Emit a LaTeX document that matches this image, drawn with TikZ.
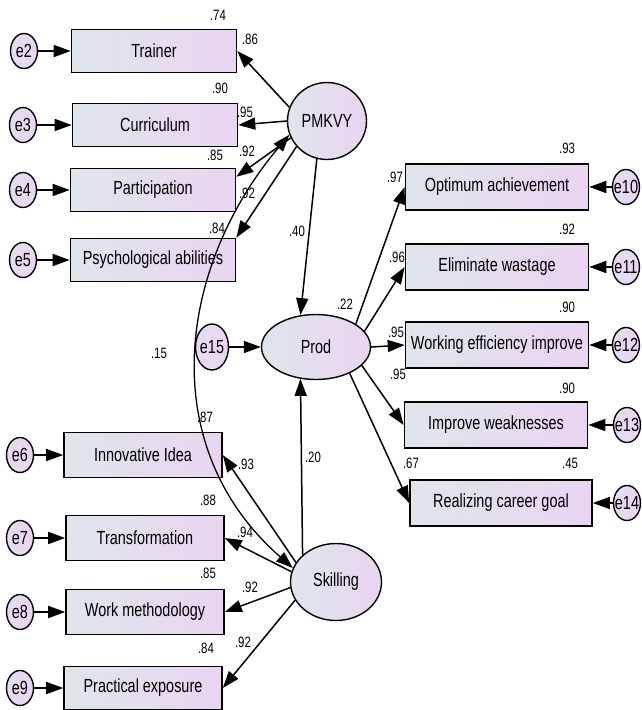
\documentclass[tikz,border=0pt]{standalone}
\usepackage{fontspec}
\setmainfont[FakeStretch=0.76]{Liberation Sans}
\usetikzlibrary{arrows.meta,shapes.geometric}
\definecolor{shadeL}{RGB}{222,230,234}
\definecolor{shadeR}{RGB}{234,212,242}
\tikzset{
  obs/.style={draw,line width=1.6pt,rectangle,left color=shadeL,right color=shadeR,
    minimum height=43pt,inner sep=0pt,font=\fontsize{19}{21}\selectfont},
  lat/.style={draw,line width=1.4pt,ellipse,left color=shadeL,right color=shadeR,
    inner sep=0pt,font=\fontsize{19}{21}\selectfont},
  err/.style={draw,line width=1.4pt,ellipse,left color=shadeL!50!shadeR,right color=shadeR,
    inner sep=0pt,minimum width=27pt,minimum height=35pt,font=\fontsize{19}{21}\selectfont},
  coef/.style={inner sep=0pt,font=\fontsize{15}{17}\selectfont},
  reg/.style={line width=1.5pt,-{Triangle[length=17pt,width=12pt]}},
  eps/.style={line width=1.7pt,-{Triangle[length=17pt,width=12pt]}},
}
\begin{document}
\begin{tikzpicture}[x=1pt,y=-1pt]
  \useasboundingbox (0,0) rectangle (642,710);
  % latent variables
  \node[lat,minimum width=79pt,minimum height=77pt] (pmkvy) at (327,121) {PMKVY};
  \node[lat,minimum width=109pt,minimum height=65pt] (prod) at (316,347) {Prod};
  \node[lat,minimum width=91pt,minimum height=77pt] (skill) at (336,582) {Skilling};
  \node[err,minimum width=33pt,minimum height=46pt] (e15) at (212,347) {\makebox[0pt]{e15}};
  % PMKVY indicators
  \node[obs,minimum width=165pt] (trainer) at (154,51) {Trainer};
  \node[obs,minimum width=165pt] (curric) at (155,125) {Curriculum};
  \node[obs,minimum width=165pt] (partic) at (153,190) {Participation};
  \node[obs,minimum width=165pt] (psych) at (153,260) {Psychological abilities};
  \node[err] (e2) at (24,51) {\makebox[0pt]{e2}};
  \node[err] (e3) at (23,125) {\makebox[0pt]{e3}};
  \node[err] (e4) at (23,190) {\makebox[0pt]{e4}};
  \node[err] (e5) at (23,260) {\makebox[0pt]{e5}};
  % Skilling indicators
  \node[obs,minimum width=158pt,minimum height=45pt] (innov) at (143,455) {Innovative Idea};
  \node[obs,minimum width=158pt,minimum height=45pt] (transf) at (145,538) {Transformation};
  \node[obs,minimum width=158pt,minimum height=45pt] (workm) at (145,612) {Work methodology};
  \node[obs,minimum width=158pt] (pract) at (143,688) {Practical exposure};
  \node[err] (e6) at (20,455) {\makebox[0pt]{e6}};
  \node[err] (e7) at (20,538) {\makebox[0pt]{e7}};
  \node[err] (e8) at (20,612) {\makebox[0pt]{e8}};
  \node[err] (e9) at (20,688) {\makebox[0pt]{e9}};
  % Prod indicators
  \node[obs,minimum width=183pt,minimum height=46pt] (optim) at (497,187) {Optimum achievement};
  \node[obs,minimum width=183pt,minimum height=46pt] (elim) at (497,267) {Eliminate wastage};
  \node[obs,minimum width=183pt,minimum height=46pt] (workeff) at (497,345) {Working efficiency improve};
  \node[obs,minimum width=183pt,minimum height=46pt] (improve) at (496,425) {Improve weaknesses};
  \node[obs,minimum width=182pt,minimum height=46pt] (career) at (501,503) {Realizing career goal};
  \node[err] (e10) at (626,187) {\makebox[0pt]{e10}};
  \node[err] (e11) at (626,267) {\makebox[0pt]{e11}};
  \node[err] (e12) at (626,345) {\makebox[0pt]{e12}};
  \node[err] (e13) at (627,425) {\makebox[0pt]{e13}};
  \node[err] (e14) at (627,503) {\makebox[0pt]{e14}};
  % error terms
  \draw[eps] (e2) -- (trainer);
  \draw[eps] (e3) -- (curric);
  \draw[eps] (e4) -- (partic);
  \draw[eps] (e5) -- (psych);
  \draw[eps] (e6) -- (innov);
  \draw[eps] (e7) -- (transf);
  \draw[eps] (e8) -- (workm);
  \draw[eps] (e9) -- (pract);
  \draw[eps] (e10) -- (optim);
  \draw[eps] (e11) -- (elim);
  \draw[eps] (e12) -- (workeff);
  \draw[eps] (e13) -- (improve);
  \draw[eps] (e14) -- (career);
  \draw[eps] (e15) -- (prod);
  % loadings and paths
  \draw[reg] (pmkvy.160) -- (trainer.east);
  \draw[reg] (pmkvy.west) -- (curric.east);
  \draw[reg] (pmkvy.205) -- (partic.9);
  \draw[reg] (pmkvy.220) -- (psych.north east);
  \draw[reg] (pmkvy.255) -- (prod.116);
  \draw[reg] (skill.141) -- (prod.244);
  \draw[reg] (skill.154) -- (innov.east);
  \draw[reg] (skill.167) -- (transf.east);
  \draw[reg] (skill.187) -- (workm.east);
  \draw[reg] (skill.204) -- (pract.east);
  \draw[reg] (prod.30) -- (optim.west);
  \draw[reg] (prod.18) -- (elim.west);
  \draw[reg] (prod.east) -- (workeff.west);
  \draw[reg] (prod.-22) -- (improve.west);
  \draw[reg] (prod.-38) -- (career.west);
  % covariance
  \draw[line width=1.3pt,{Triangle[length=17pt,width=12pt]}-{Triangle[length=17pt,width=12pt]}]
    (pmkvy.200) .. controls (178,267) and (154,446) .. (skill.162);
  % estimates
  \node[coef] (rTrainer) at (218,15) {.74};
  \node[coef] (wTrainer) at (250,39) {.86};
  \node[coef] (rCurric) at (220,88) {.90};
  \node[coef] (wCurric) at (245,112) {.95};
  \node[coef] (rPartic) at (215,155) {.85};
  \node[coef] (wPartic) at (247,151) {.92};
  \node[coef] (wPsych) at (247,193) {.92};
  \node[coef] (rPsych) at (217,228) {.84};
  \node[coef] (wPmkvy) at (297,231) {.40};
  \node[coef] (rProd) at (345,304) {.22};
  \node[coef] (wOptim) at (395,177) {.97};
  \node[coef] (rOptim) at (567,148) {.93};
  \node[coef] (wElim) at (397,257) {.96};
  \node[coef] (rElim) at (567,229) {.92};
  \node[coef] (rWorkeff) at (567,307) {.90};
  \node[coef] (wWorkeff) at (396,332) {.95};
  \node[coef] (wImprove) at (398,374) {.95};
  \node[coef] (rImprove) at (567,388) {.90};
  \node[coef] (wCareer) at (411,463) {.67};
  \node[coef] (rCareer) at (570,463) {.45};
  \node[coef] (rInnov) at (205,417) {.87};
  \node[coef] (wInnov) at (246,464) {.93};
  \node[coef] (wSkill) at (313,457) {.20};
  \node[coef] (rTransf) at (208,500) {.88};
  \node[coef] (wTransf) at (245,532) {.94};
  \node[coef] (rWorkm) at (208,573) {.85};
  \node[coef] (wWorkm) at (250,587) {.92};
  \node[coef] (rPract) at (206,648) {.84};
  \node[coef] (wPract) at (243,642) {.92};
  \node[coef] (cov) at (159,353) {.15};
\end{tikzpicture}
\end{document}
